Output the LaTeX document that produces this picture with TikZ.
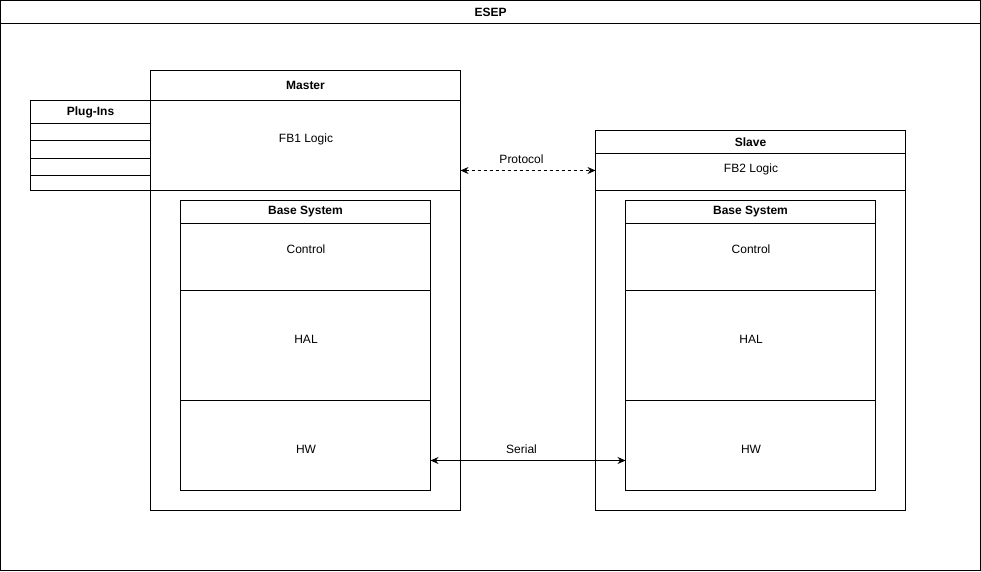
\documentclass[tikz,border=0pt]{standalone}
\usepackage{fontspec}
\setmainfont{Liberation Sans}
\usetikzlibrary{arrows.meta}
\begin{document}
\begin{tikzpicture}[x=1pt,y=-1pt,
  box/.style={draw, line width=1pt, inner sep=0pt, outer sep=0pt, anchor=north west},
  hdr/.style={font=\fontsize{12}{14}\selectfont\bfseries},
  txt/.style={font=\fontsize{12}{14}\selectfont, inner sep=0pt},
  arr/.style={line width=1pt, {Stealth[length=8pt,width=7pt]}-{Stealth[length=8pt,width=7pt]}}]
\useasboundingbox (0,0) rectangle (981,571);
% ESEP
\node[box, minimum width=980pt, minimum height=570pt] (esep) at (0.5,0.5) {};
\node[box, minimum width=980pt, minimum height=23pt, hdr] (esephdr) at (0.5,0.5) {ESEP};
% Plug-ins
\node[box, minimum width=120pt, minimum height=90pt] (plug) at (30.5,100.5) {};
\node[box, minimum width=120pt, minimum height=23pt, hdr] (plughdr) at (30.5,100.5) {Plug-Ins};
\node[box, minimum width=120pt, minimum height=17pt] (plug1) at (30.5,123.5) {};
\node[box, minimum width=120pt, minimum height=18pt] (plug2) at (30.5,140.5) {};
\node[box, minimum width=120pt, minimum height=17pt] (plug3) at (30.5,158.5) {};
% Master
\node[box, minimum width=310pt, minimum height=440pt, fill=white] (master) at (150.5,70.5) {};
\node[box, minimum width=310pt, minimum height=30pt, hdr] (masterhdr) at (150.5,70.5) {Master};
\node[box, minimum width=310pt, minimum height=90pt] (fb1) at (150.5,100.5) {};
\node[txt] (fb1t) at (306,139) {FB1 Logic};
% Master base system
\node[box, minimum width=250pt, minimum height=290pt] (bsm) at (180.5,200.5) {};
\node[box, minimum width=250pt, minimum height=23pt, hdr] (bsmhdr) at (180.5,200.5) {Base System};
\node[box, minimum width=250pt, minimum height=67pt] (ctlm) at (180.5,223.5) {};
\node[box, minimum width=250pt, minimum height=110pt] (halm) at (180.5,290.5) {};
\node[box, minimum width=250pt, minimum height=90pt] (hwm) at (180.5,400.5) {};
\node[txt] (ctlmt) at (306,249) {Control};
\node[txt] (halmt) at (306,339) {HAL};
\node[txt] (hwmt) at (306,449) {HW};
% Slave
\node[box, minimum width=310pt, minimum height=380pt] (slave) at (595.5,130.5) {};
\node[box, minimum width=310pt, minimum height=23pt, hdr] (slavehdr) at (595.5,130.5) {Slave};
\node[box, minimum width=310pt, minimum height=37pt] (fb2) at (595.5,153.5) {};
\node[txt] (fb2t) at (751,169) {FB2 Logic};
% Slave base system
\node[box, minimum width=250pt, minimum height=290pt] (bss) at (625.5,200.5) {};
\node[box, minimum width=250pt, minimum height=23pt, hdr] (bsshdr) at (625.5,200.5) {Base System};
\node[box, minimum width=250pt, minimum height=67pt] (ctls) at (625.5,223.5) {};
\node[box, minimum width=250pt, minimum height=110pt] (hals) at (625.5,290.5) {};
\node[box, minimum width=250pt, minimum height=90pt] (hws) at (625.5,400.5) {};
\node[txt] (ctlst) at (751,249) {Control};
\node[txt] (halst) at (751,339) {HAL};
\node[txt] (hwst) at (751,449) {HW};
% Connectors
\coordinate (pa) at (master.east |- 0,170.5);
\coordinate (pb) at (slave.west |- 0,170.5);
\draw[arr, dashed] (pa) -- (pb);
\node[txt] (prot) at (521.5,159) {Protocol};
\coordinate (sa) at (hwm.east |- 0,460.5);
\coordinate (sb) at (hws.west |- 0,460.5);
\draw[arr] (sa) -- (sb);
\node[txt] (ser) at (521.5,449) {Serial};
\end{tikzpicture}
\end{document}
